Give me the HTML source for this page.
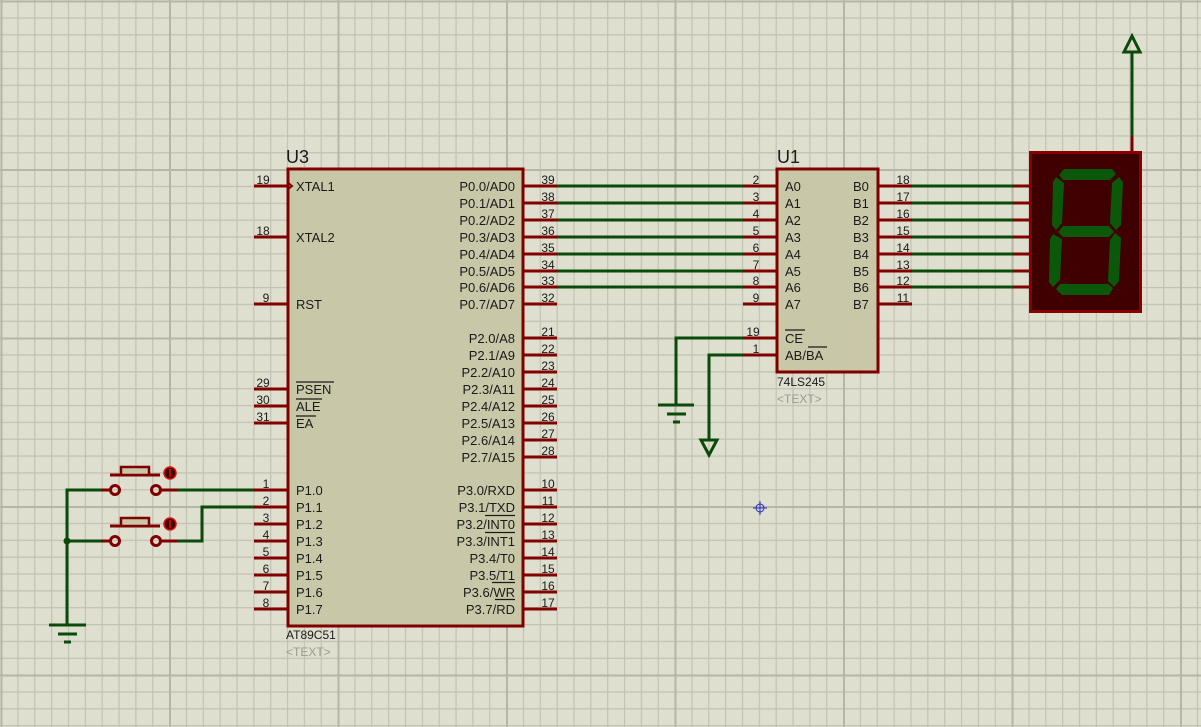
<!DOCTYPE html>
<html><head><meta charset="utf-8"><style>
html,body{margin:0;padding:0;background:#dfdfd0;}
svg{display:block;font-family:"Liberation Sans",sans-serif;}
</style></head><body>
<svg width="1201" height="727" viewBox="0 0 1201 727" xmlns="http://www.w3.org/2000/svg">
<defs>
<pattern id="mn" x="0.5" y="0.5" width="16.85" height="16.85" patternUnits="userSpaceOnUse">
<path d="M0.6 0V16.85M0 0.6H16.85" stroke="#c2c2b2" stroke-width="1.2" fill="none"/>
</pattern>
<pattern id="mj" x="0.5" y="0.5" width="168.5" height="168.5" patternUnits="userSpaceOnUse">
<path d="M1 0V168.5M0 1H168.5" stroke="#b6b6a6" stroke-width="2" fill="none"/>
</pattern>
</defs>
<rect width="1201" height="727" fill="#dfdfd0"/>
<rect width="1201" height="727" fill="url(#mn)"/>
<rect width="1201" height="727" fill="url(#mj)"/>

<!-- green wires -->
<g stroke="#0a4a0a" stroke-width="3" fill="none">
<path d="M557 186H743M557 203H743M557 220H743M557 237H743M557 254H743M557 271H743M557 287H743"/>
<path d="M912 186H1013M912 203H1013M912 220H1013M912 237H1013M912 254H1013M912 271H1013M912 287H1013"/>
<path d="M743 338H676V405M743 355H709V440"/>
<path d="M1132 136V52"/>
<path d="M101 490H67V625M101 541H67M178 490H254M178 541H202V507H254"/>
</g>
<circle cx="67" cy="541" r="3.5" fill="#0a4a0a"/>
<!-- grounds -->
<g stroke="#0a4a0a" stroke-width="3">
<path d="M658 405H694M667 414H686M673 422H680"/>
<path d="M49 625H86M58 634H77M64 642H71"/>
</g>
<path d="M701 440H717L709 455Z" fill="none" stroke="#0a4a0a" stroke-width="3"/>
<path d="M1124 52H1140L1132 36Z" fill="none" stroke="#0a4a0a" stroke-width="3"/>

<!-- U3 -->
<rect x="288" y="169" width="235" height="457" fill="#c8c8a9" stroke="#800000" stroke-width="3"/>
<g stroke="#800000" stroke-width="3">
<path d="M254 186H288M254 237H288M254 304H288M254 389H288M254 406H288M254 423H288"/>
<path d="M254 490H288M254 507H288M254 524H288M254 541H288M254 558H288M254 575H288M254 592H288M254 609H288"/>
<path d="M523 186H557M523 203H557M523 220H557M523 237H557M523 254H557M523 271H557M523 287H557M523 304H557"/>
<path d="M523 338H557M523 355H557M523 372H557M523 389H557M523 406H557M523 423H557M523 440H557M523 457H557"/>
<path d="M523 490H557M523 507H557M523 524H557M523 541H557M523 558H557M523 575H557M523 592H557M523 609H557"/>
</g>
<path d="M287 182L292 186L287 190" fill="none" stroke="#800000" stroke-width="2"/>
<g font-size="13" fill="#1a1a1a">
<text x="296" y="191">XTAL1</text><text x="296" y="242">XTAL2</text><text x="296" y="309">RST</text>
<text x="296" y="394">PSEN</text><text x="296" y="411">ALE</text><text x="296" y="428">EA</text>
<text x="296" y="495">P1.0</text><text x="296" y="512">P1.1</text><text x="296" y="529">P1.2</text><text x="296" y="546">P1.3</text>
<text x="296" y="563">P1.4</text><text x="296" y="580">P1.5</text><text x="296" y="597">P1.6</text><text x="296" y="614">P1.7</text>
</g>
<g font-size="13" fill="#1a1a1a" text-anchor="end">
<text x="515" y="191">P0.0/AD0</text><text x="515" y="208">P0.1/AD1</text><text x="515" y="225">P0.2/AD2</text><text x="515" y="242">P0.3/AD3</text>
<text x="515" y="259">P0.4/AD4</text><text x="515" y="276">P0.5/AD5</text><text x="515" y="292">P0.6/AD6</text><text x="515" y="309">P0.7/AD7</text>
<text x="515" y="343">P2.0/A8</text><text x="515" y="360">P2.1/A9</text><text x="515" y="377">P2.2/A10</text><text x="515" y="394">P2.3/A11</text>
<text x="515" y="411">P2.4/A12</text><text x="515" y="428">P2.5/A13</text><text x="515" y="445">P2.6/A14</text><text x="515" y="462">P2.7/A15</text>
<text x="515" y="495">P3.0/RXD</text><text x="515" y="512">P3.1/TXD</text><text x="515" y="529">P3.2/INT0</text><text x="515" y="546">P3.3/INT1</text>
<text x="515" y="563">P3.4/T0</text><text x="515" y="580">P3.5/T1</text><text x="515" y="597">P3.6/WR</text><text x="515" y="614">P3.7/RD</text>
</g>
<g stroke="#1a1a1a" stroke-width="1.2">
<path d="M296 382H334M296 399H322M296 416H316"/>
<path d="M485 515.5H515M485 532.5H515M492 582.5H515M495 599.5H515"/>
</g>
<g font-size="12" fill="#1a1a1a" text-anchor="middle">
<text x="263" y="184">19</text><text x="263" y="235">18</text><text x="266" y="302">9</text>
<text x="263" y="387">29</text><text x="263" y="404">30</text><text x="263" y="421">31</text>
<text x="266" y="488">1</text><text x="266" y="505">2</text><text x="266" y="522">3</text><text x="266" y="539">4</text>
<text x="266" y="556">5</text><text x="266" y="573">6</text><text x="266" y="590">7</text><text x="266" y="607">8</text>
<text x="548" y="184">39</text><text x="548" y="201">38</text><text x="548" y="218">37</text><text x="548" y="235">36</text>
<text x="548" y="252">35</text><text x="548" y="269">34</text><text x="548" y="285">33</text><text x="548" y="302">32</text>
<text x="548" y="336">21</text><text x="548" y="353">22</text><text x="548" y="370">23</text><text x="548" y="387">24</text>
<text x="548" y="404">25</text><text x="548" y="421">26</text><text x="548" y="438">27</text><text x="548" y="455">28</text>
<text x="548" y="488">10</text><text x="548" y="505">11</text><text x="548" y="522">12</text><text x="548" y="539">13</text>
<text x="548" y="556">14</text><text x="548" y="573">15</text><text x="548" y="590">16</text><text x="548" y="607">17</text>
</g>
<text x="286" y="163" font-size="18" fill="#1a1a1a">U3</text>
<text x="286" y="639" font-size="12" fill="#1a1a1a">AT89C51</text>
<text x="286" y="656" font-size="12" fill="#9a9a90">&lt;TEXT&gt;</text>

<!-- U1 -->
<rect x="777" y="169" width="101" height="203" fill="#c8c8a9" stroke="#800000" stroke-width="3"/>
<g stroke="#800000" stroke-width="3">
<path d="M743 186H777M743 203H777M743 220H777M743 237H777M743 254H777M743 271H777M743 287H777M743 304H777M743 338H777M743 355H777"/>
<path d="M878 186H912M878 203H912M878 220H912M878 237H912M878 254H912M878 271H912M878 287H912M878 304H912"/>
<path d="M1013 186H1030M1013 203H1030M1013 220H1030M1013 237H1030M1013 254H1030M1013 271H1030M1013 287H1030"/>
<path d="M1132 152V136"/>
</g>
<g font-size="13" fill="#1a1a1a">
<text x="785" y="191">A0</text><text x="785" y="208">A1</text><text x="785" y="225">A2</text><text x="785" y="242">A3</text>
<text x="785" y="259">A4</text><text x="785" y="276">A5</text><text x="785" y="292">A6</text><text x="785" y="309">A7</text>
<text x="785" y="343">CE</text><text x="785" y="360">AB/BA</text>
<text x="853" y="191">B0</text><text x="853" y="208">B1</text><text x="853" y="225">B2</text><text x="853" y="242">B3</text>
<text x="853" y="259">B4</text><text x="853" y="276">B5</text><text x="853" y="292">B6</text><text x="853" y="309">B7</text>
</g>
<path d="M785 330H805M808 347H827" stroke="#1a1a1a" stroke-width="1.2"/>
<g font-size="12" fill="#1a1a1a" text-anchor="middle">
<text x="756" y="184">2</text><text x="756" y="201">3</text><text x="756" y="218">4</text><text x="756" y="235">5</text>
<text x="756" y="252">6</text><text x="756" y="269">7</text><text x="756" y="285">8</text><text x="756" y="302">9</text>
<text x="753" y="336">19</text><text x="756" y="353">1</text>
<text x="903" y="184">18</text><text x="903" y="201">17</text><text x="903" y="218">16</text><text x="903" y="235">15</text>
<text x="903" y="252">14</text><text x="903" y="269">13</text><text x="903" y="285">12</text><text x="903" y="302">11</text>
</g>
<text x="777" y="163" font-size="18" fill="#1a1a1a">U1</text>
<text x="777" y="386" font-size="12" fill="#1a1a1a">74LS245</text>
<text x="777" y="403" font-size="12" fill="#9a9a90">&lt;TEXT&gt;</text>

<!-- 7 seg -->
<rect x="1030.5" y="152.5" width="110" height="159" fill="#3e0000" stroke="#8a0000" stroke-width="3"/>
<g fill="#0b580b">
<polygon points="1064,169 1112,169 1116,174 1110,180 1063,180 1059,175"/>
<polygon points="1056,177 1064,183 1062,223 1056,230 1052,225 1053,182"/>
<polygon points="1119,177 1123,182 1121,225 1116,230 1110,223 1112,183"/>
<polygon points="1058,232 1063,226 1109,226 1114,232 1109,237 1063,237"/>
<polygon points="1053,234 1062,239 1060,280 1053,287 1049,282 1050,239"/>
<polygon points="1115,233 1121,238 1119,281 1114,287 1108,281 1110,240"/>
<polygon points="1060,284 1108,284 1113,288 1109,295 1062,295 1056,289"/>
</g>

<!-- buttons -->
<g stroke="#800000" stroke-width="3" fill="none">
<path d="M101 490H111M160 490H178M101 541H111M160 541H178"/>
<circle cx="115" cy="490" r="4.5"/><circle cx="156" cy="490" r="4.5"/>
<circle cx="115" cy="541" r="4.5"/><circle cx="156" cy="541" r="4.5"/>
<path d="M110 475H160M110 526H160"/>
</g>
<rect x="121" y="467" width="28" height="8" fill="#c8c8a9" stroke="#800000" stroke-width="2.5"/>
<rect x="121" y="518" width="28" height="8" fill="#c8c8a9" stroke="#800000" stroke-width="2.5"/>
<circle cx="170" cy="473" r="6" fill="#400000" stroke="#e01010" stroke-width="1.5"/>
<circle cx="170" cy="524" r="6" fill="#400000" stroke="#e01010" stroke-width="1.5"/>
<path d="M170 469V477M170 520V528" stroke="#e01010" stroke-width="1.5"/>

<!-- crosshair -->
<g stroke="#2030c0" stroke-width="1" fill="none">
<circle cx="760" cy="508" r="4"/><path d="M753 508H767M760 501V515"/>
</g>
</svg>
</body></html>
